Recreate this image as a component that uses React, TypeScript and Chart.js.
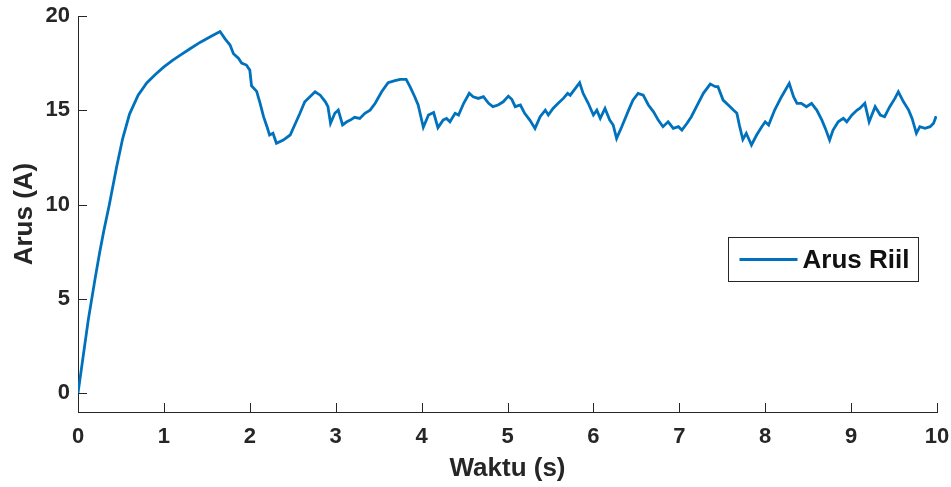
import { useEffect, useRef } from "react";
import { Chart, registerables } from "chart.js";

Chart.register(...registerables);

// Measured current of the motor drive, sampled over 10 s
const timeS = [
  0, 0.04, 0.08, 0.12, 0.16, 0.2, 0.25, 0.3, 0.365, 0.45, 0.52, 0.6, 0.7, 0.8, 0.9,
  1.0, 1.1, 1.2, 1.3, 1.42, 1.54, 1.653, 1.71, 1.77, 1.81, 1.87, 1.905, 1.96, 2.0,
  2.02, 2.08, 2.12, 2.16, 2.2, 2.23, 2.27, 2.31, 2.39, 2.47, 2.58, 2.64, 2.7, 2.76,
  2.82, 2.88, 2.91, 2.94, 2.99, 3.03, 3.08, 3.13, 3.17, 3.22, 3.28, 3.34, 3.4, 3.46,
  3.535, 3.61, 3.69, 3.75, 3.82, 3.865, 3.92, 3.96, 4.02, 4.08, 4.14, 4.19, 4.25,
  4.29, 4.33, 4.39, 4.43, 4.49, 4.555, 4.6, 4.66, 4.72, 4.78, 4.83, 4.89, 4.95, 5.01,
  5.05, 5.09, 5.15, 5.2, 5.26, 5.32, 5.38, 5.44, 5.475, 5.53, 5.59, 5.65, 5.7, 5.73,
  5.79, 5.84, 5.88, 5.94, 6.0, 6.04, 6.08, 6.135, 6.19, 6.23, 6.27, 6.33, 6.41, 6.46,
  6.52, 6.58, 6.64, 6.7, 6.755, 6.81, 6.87, 6.93, 6.99, 7.03, 7.09, 7.14, 7.2, 7.28,
  7.36, 7.42, 7.45, 7.51, 7.57, 7.63, 7.67, 7.7, 7.74, 7.78, 7.84, 7.9, 7.96, 8.0,
  8.04, 8.11, 8.19, 8.28, 8.33, 8.37, 8.42, 8.48, 8.54, 8.6, 8.66, 8.7, 8.75, 8.79,
  8.85, 8.91, 8.95, 9.01, 9.07, 9.1, 9.16, 9.21, 9.28, 9.34, 9.39, 9.45, 9.51, 9.55,
  9.61, 9.67, 9.71, 9.76, 9.8, 9.86, 9.92, 9.96, 9.99,
];

const currentA = [
  0, 1.3, 2.6, 3.9, 5.0, 6.1, 7.4, 8.6, 10.0, 12.0, 13.5, 14.8, 15.8, 16.45, 16.9,
  17.3, 17.65, 17.95, 18.25, 18.6, 18.9, 19.18, 18.8, 18.46, 18.0, 17.75, 17.5, 17.4, 17.13,
  16.3, 16.0, 15.37, 14.66, 14.13, 13.69, 13.78, 13.25, 13.42, 13.69, 14.8, 15.45, 15.72, 15.98,
  15.8, 15.45, 15.19, 14.31, 14.84, 15.01, 14.22, 14.39, 14.48, 14.63, 14.57, 14.84, 15.01, 15.37,
  15.98, 16.46, 16.57, 16.64, 16.64, 16.25, 15.72, 15.28, 14.1, 14.75, 14.88, 14.08, 14.48,
  14.57, 14.39, 14.84, 14.75, 15.37, 15.9, 15.72, 15.63, 15.72, 15.37, 15.19, 15.28, 15.45, 15.75,
  15.58, 15.19, 15.28, 14.84, 14.48, 14.04, 14.66, 15.01, 14.75, 15.1, 15.37, 15.63, 15.9, 15.8,
  16.16, 16.46, 15.9, 15.37, 14.75, 15.01, 14.57, 15.1, 14.48, 14.22, 13.51, 14.13, 15.01, 15.54,
  15.9, 15.8, 15.28, 14.92, 14.48, 14.13, 14.39, 14.04, 14.13, 13.95, 14.31, 14.66, 15.19, 15.9,
  16.39, 16.25, 16.25, 15.54, 15.28, 15.01, 14.84, 14.2, 13.45, 13.78, 13.16, 13.69, 14.13, 14.39,
  14.22, 15.01, 15.72, 16.43, 15.72, 15.37, 15.37, 15.19, 15.37, 15.01, 14.48, 14.04, 13.42, 13.95,
  14.39, 14.57, 14.39, 14.75, 15.01, 15.1, 15.37, 14.39, 15.19, 14.75, 14.66, 15.19, 15.63, 15.98,
  15.45, 15.01, 14.57, 13.78, 14.13, 14.04, 14.13, 14.31, 14.69,
];

const xTickValues = [0, 1, 2, 3, 4, 5, 6, 7, 8, 9, 10];
const yTickValues = [0, 5, 10, 15, 20];

const seriesLabel = "Arus Riil";
const xTitle = "Waktu (s)";
const yTitle = "Arus (A)";

const AXIS_COLOR = "#262626";
const LINE_COLOR = "#0072BD";
const FONT_FAMILY = "Arial, 'Liberation Sans', Helvetica, sans-serif";
const TICK_LEN = 9;

// MATLAB-style tick marks pointing into the plot area
const inwardTicks = {
  id: "inwardTicks",
  afterDatasetsDraw(chart: any) {
    const { ctx, chartArea, scales } = chart;
    ctx.save();
    ctx.strokeStyle = AXIS_COLOR;
    ctx.lineWidth = 1;
    ctx.beginPath();
    for (const v of xTickValues) {
      const px = Math.round(scales.x.getPixelForValue(v)) + 0.5;
      ctx.moveTo(px, chartArea.bottom);
      ctx.lineTo(px, chartArea.bottom - TICK_LEN);
    }
    for (const v of yTickValues) {
      const py = Math.round(scales.y.getPixelForValue(v)) + 0.5;
      ctx.moveTo(chartArea.left, py);
      ctx.lineTo(chartArea.left + TICK_LEN, py);
    }
    ctx.stroke();
    ctx.restore();
  },
};

// Boxed legend sitting at the right side of the plot area
const boxedLegend = {
  id: "boxedLegend",
  afterDraw(chart: any) {
    const { ctx, chartArea } = chart;
    const boxW = 190;
    const boxH = 44;
    const left = Math.round(chartArea.right - 19 - boxW) + 0.5;
    const top = Math.round(chartArea.top + 221) + 0.5;
    const midY = top + boxH / 2;
    ctx.save();
    ctx.fillStyle = "#ffffff";
    ctx.fillRect(left, top, boxW, boxH);
    ctx.strokeStyle = AXIS_COLOR;
    ctx.lineWidth = 1;
    ctx.strokeRect(left, top, boxW, boxH);
    ctx.strokeStyle = LINE_COLOR;
    ctx.lineWidth = 2.8;
    ctx.beginPath();
    ctx.moveTo(left + 11, midY);
    ctx.lineTo(left + 69, midY);
    ctx.stroke();
    ctx.fillStyle = "#111111";
    ctx.font = `bold 26px ${FONT_FAMILY}`;
    ctx.textAlign = "left";
    ctx.textBaseline = "middle";
    ctx.fillText(seriesLabel, left + 74, midY + 1);
    ctx.restore();
  },
};

export default function App() {
  const canvasRef = useRef<HTMLCanvasElement | null>(null);

  useEffect(() => {
    const canvas = canvasRef.current;
    if (!canvas) return;
    const points = timeS.map((t, i) => ({ x: t, y: currentA[i] }));

    const chart = new Chart(canvas, {
      type: "line",
      data: {
        datasets: [
          {
            label: seriesLabel,
            data: points,
            borderColor: LINE_COLOR,
            backgroundColor: LINE_COLOR,
            borderWidth: 2.8,
            pointRadius: 0,
            tension: 0,
            fill: false,
          },
        ],
      },
      options: {
        responsive: false,
        animation: false,
        devicePixelRatio: 1,
        layout: { padding: { top: 16, right: 14, left: 0, bottom: 0 } },
        plugins: {
          legend: { display: false },
          tooltip: { enabled: false },
        },
        scales: {
          x: {
            type: "linear",
            min: 0,
            max: 10,
            afterBuildTicks: (s: any) => {
              s.ticks = xTickValues.map((value) => ({ value }));
            },
            afterFit: (s: any) => {
              s.height = 75;
              s.paddingLeft = 0;
              s.paddingRight = 0;
            },
            grid: { display: false, drawTicks: false },
            border: { display: true, color: AXIS_COLOR, width: 1 },
            ticks: {
              color: AXIS_COLOR,
              font: { family: FONT_FAMILY, size: 22, weight: "bold" },
              padding: 12,
              maxRotation: 0,
              autoSkip: false,
            },
            title: {
              display: true,
              text: xTitle,
              color: AXIS_COLOR,
              font: { family: FONT_FAMILY, size: 26, weight: "bold" },
              padding: { top: 0, bottom: 3 },
            },
          },
          y: {
            type: "linear",
            min: -1,
            max: 20,
            afterBuildTicks: (s: any) => {
              s.ticks = yTickValues.map((value) => ({ value }));
            },
            afterFit: (s: any) => {
              s.width = 78;
              s.paddingTop = 0;
              s.paddingBottom = 0;
            },
            grid: { display: false, drawTicks: false },
            border: { display: true, color: AXIS_COLOR, width: 1 },
            ticks: {
              color: AXIS_COLOR,
              font: { family: FONT_FAMILY, size: 22, weight: "bold" },
              padding: 8,
              autoSkip: false,
            },
            title: {
              display: true,
              text: yTitle,
              color: AXIS_COLOR,
              font: { family: FONT_FAMILY, size: 26, weight: "bold" },
              padding: { top: 9, bottom: 0 },
            },
          },
        },
      },
      plugins: [inwardTicks, boxedLegend],
    });

    return () => chart.destroy();
  }, []);

  return (
    <div style={{ position: "absolute", left: 0, top: 0, width: 951, height: 487, background: "#ffffff" }}>
      <canvas ref={canvasRef} width={951} height={487} />
    </div>
  );
}
